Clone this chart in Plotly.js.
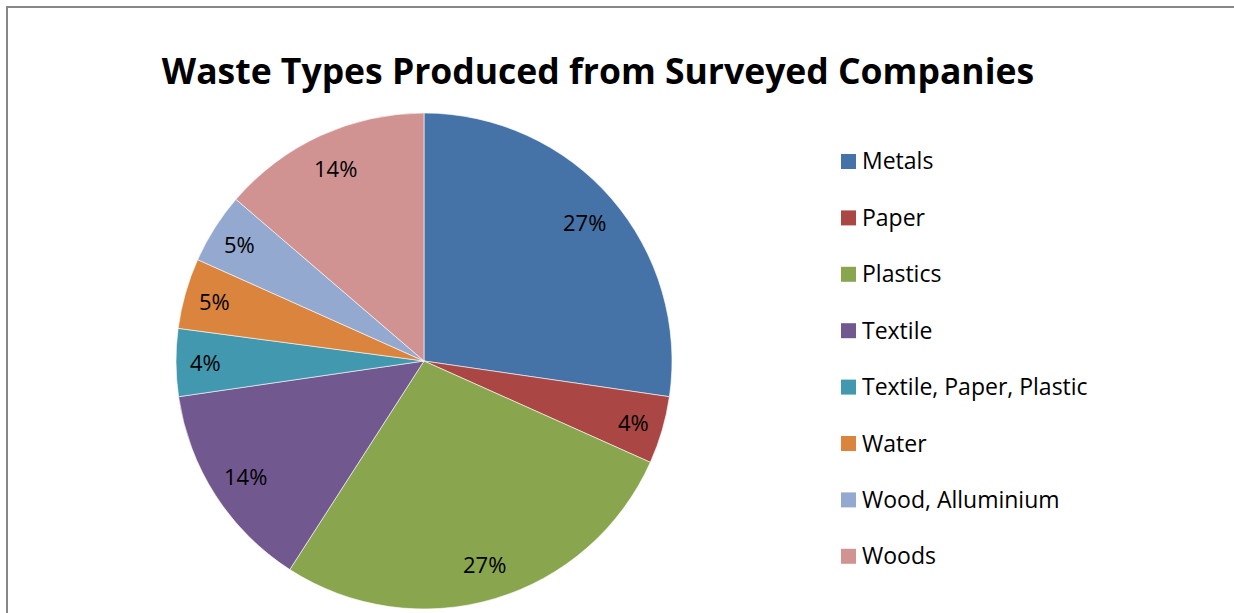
<!DOCTYPE html>
<html>
<head>
<meta charset="utf-8">
<script src="https://cdn.plot.ly/plotly-3.0.1.min.js"></script>
<style>html,body{margin:0;padding:0;background:#fff;}#chart{width:1234px;height:613px;}</style>
</head>
<body>
<div id="chart"></div>
<script>
const categories = ["Metals", "Paper", "Plastics", "Textile", "Textile, Paper, Plastic", "Water", "Wood, Alluminium", "Woods"];
const shares = [27.3, 4.4, 27.4, 13.6, 4.4, 4.6, 4.6, 13.7];
const colors = ["#4572A7", "#AA4643", "#89A54E", "#71588F", "#4198AF", "#DB843D", "#93A9CF", "#D19392"];
const chartTitle = "Waste Types Produced from Surveyed Companies";

const W = 1234, H = 613;
const cx = 424, cy = 361, R = 248;
const font = "Open Sans, Liberation Sans, Arial, sans-serif";

const trace = {
  type: "pie",
  labels: categories,
  values: shares,
  sort: false,
  direction: "clockwise",
  rotation: 0,
  marker: { colors: colors, line: { color: "#ffffff", width: 0.6 } },
  textinfo: "none",
  hoverinfo: "label+percent",
  showlegend: false,
  domain: { x: [(cx - R) / W, (cx + R) / W], y: [(H - cy - R) / H, (H - cy + R) / H] }
};

const shapes = [
  { type: "line", xref: "paper", yref: "paper", x0: 7 / W, x1: 7 / W, y0: 0, y1: 1 - 7 / H, line: { color: "#888888", width: 2 } },
  { type: "line", xref: "paper", yref: "paper", x0: 6 / W, x1: 1, y0: 1 - 7 / H, y1: 1 - 7 / H, line: { color: "#888888", width: 2 } }
];
const annotations = [];

// data labels placed at the mid-angle of each slice (derived from the shares)
const total = shares.reduce((a, b) => a + b, 0);
let cum = 0;
shares.forEach((v, i) => {
  const mid = (cum + v / 2) / total * 2 * Math.PI;
  cum += v;
  const rf = (v / total < 0.1) ? 0.88 : 0.855;
  const px = cx + Math.sin(mid) * R * rf;
  const py = cy - Math.cos(mid) * R * rf;
  annotations.push({ xref: "paper", yref: "paper", x: px / W, y: 1 - py / H, xanchor: "center", yanchor: "middle",
    text: Math.round(v / total * 100) + "%", showarrow: false, font: { family: font, size: 22, color: "#000000" } });
});

// legend
const legendTop = 161.5, legendStep = 56.4;
categories.forEach((c, i) => {
  const yc = legendTop + i * legendStep;
  shapes.push({ type: "rect", xref: "paper", yref: "paper", x0: 841 / W, x1: 856 / W, y0: 1 - (yc + 7.5) / H, y1: 1 - (yc - 7.5) / H, fillcolor: colors[i], line: { width: 0 } });
  annotations.push({ xref: "paper", yref: "paper", x: 860 / W, y: 1 - (yc - 1) / H, xanchor: "left", yanchor: "middle", text: c, showarrow: false, font: { family: font, size: 23, color: "#000000" } });
});

const layout = {
  width: W, height: H,
  margin: { l: 0, r: 0, t: 0, b: 0 },
  paper_bgcolor: "#ffffff",
  title: { text: "<b>" + chartTitle + "</b>", x: 598 / W, xanchor: "center", y: 1 - 72 / H, yanchor: "middle", font: { family: font, size: 35.5, color: "#000000" } },
  shapes: shapes,
  annotations: annotations,
  showlegend: false
};

Plotly.newPlot("chart", [trace], layout, { displayModeBar: false, staticPlot: true });
</script>
</body>
</html>
